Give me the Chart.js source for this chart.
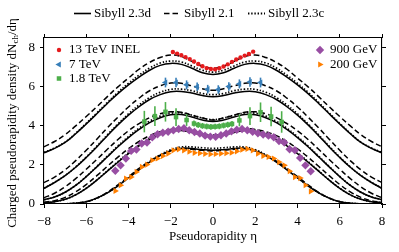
<!DOCTYPE html>
<html>
<head>
<meta charset="utf-8">
<script src="https://cdn.jsdelivr.net/npm/chart.js@4.4.1/dist/chart.umd.min.js"></script>
<style>
  html, body { margin: 0; padding: 0; background: #fff; }
  #wrap { width: 399px; height: 252px; }
</style>
</head>
<body>
<div id="wrap"><canvas id="chart" width="399" height="252"></canvas></div>
<script>
// |eta| grid of the model curves (curves are symmetric in eta)
const etaHalf = [0, 0.5, 1, 1.5, 2, 2.5, 3, 3.5, 4, 4.5, 5, 5.5, 6, 6.5, 7, 7.5, 8];

// Sibyll 2.3d (solid), 2.1 (dashed), 2.3c (dotted)
const s23d_13 = [6.63, 6.72, 6.95, 7.15, 7.2, 7.1, 6.85, 6.5, 6.1, 5.65, 5.15, 4.62, 4.1, 3.6, 3.15, 2.85, 2.62];
const s21_13  = [6.95, 7.05, 7.3, 7.55, 7.63, 7.5, 7.25, 6.9, 6.45, 6.0, 5.5, 4.98, 4.48, 4.0, 3.55, 3.2, 2.93];
const s23c_13 = [6.75, 6.85, 7.07, 7.27, 7.32, 7.22, 6.96, 6.6, 6.18, 5.72, 5.2, 4.66, 4.13, 3.62, 3.17, 2.87, 2.64];

const s23d_7 = [5.49, 5.55, 5.68, 5.76, 5.75, 5.6, 5.35, 4.98, 4.55, 4.05, 3.5, 2.92, 2.38, 1.88, 1.45, 1.1, 0.8];
const s21_7  = [5.82, 5.9, 6.05, 6.18, 6.2, 6.05, 5.8, 5.42, 4.97, 4.45, 3.9, 3.32, 2.75, 2.22, 1.75, 1.38, 1.1];
const s23c_7 = [5.6, 5.66, 5.8, 5.88, 5.87, 5.72, 5.45, 5.07, 4.62, 4.1, 3.54, 2.96, 2.4, 1.9, 1.46, 1.11, 0.81];

const s23d_18 = [4.22, 4.3, 4.45, 4.58, 4.57, 4.42, 4.17, 3.82, 3.4, 2.93, 2.42, 1.9, 1.4, 0.95, 0.6, 0.36, 0.22];
const s21_18  = [4.3, 4.4, 4.55, 4.7, 4.72, 4.62, 4.42, 4.12, 3.75, 3.3, 2.8, 2.28, 1.78, 1.3, 0.88, 0.55, 0.32];
const s23c_18 = [4.32, 4.4, 4.55, 4.67, 4.65, 4.5, 4.24, 3.88, 3.45, 2.97, 2.45, 1.92, 1.41, 0.96, 0.6, 0.36, 0.22];

const s23d_09 = [3.45, 3.52, 3.66, 3.76, 3.72, 3.55, 3.3, 2.97, 2.58, 2.14, 1.68, 1.22, 0.8, 0.47, 0.24, 0.12, 0.07];
const s21_09  = [3.5, 3.58, 3.72, 3.84, 3.82, 3.7, 3.5, 3.2, 2.83, 2.4, 1.93, 1.45, 1.0, 0.62, 0.34, 0.17, 0.09];
const s23c_09 = [3.53, 3.6, 3.74, 3.84, 3.8, 3.62, 3.36, 3.02, 2.62, 2.17, 1.7, 1.23, 0.81, 0.47, 0.24, 0.12, 0.07];

const s23d_02 = [2.75, 2.78, 2.84, 2.86, 2.73, 2.48, 2.15, 1.75, 1.33, 0.93, 0.57, 0.3, 0.12, 0.04, 0.01, 0, 0];
const s21_02  = [2.72, 2.75, 2.8, 2.82, 2.72, 2.5, 2.2, 1.82, 1.4, 0.98, 0.6, 0.3, 0.12, 0.04, 0.01, 0, 0];
const s23c_02 = [2.85, 2.88, 2.92, 2.92, 2.78, 2.52, 2.18, 1.77, 1.35, 0.94, 0.58, 0.3, 0.12, 0.04, 0.01, 0, 0];

// measurements
const eta13 = [-1.9, -1.7, -1.5, -1.3, -1.1, -0.9, -0.7, -0.5, -0.3, -0.1, 0.1, 0.3, 0.5, 0.7, 0.9, 1.1, 1.3, 1.5, 1.7, 1.9];
const val13 = [7.78, 7.7, 7.62, 7.52, 7.42, 7.3, 7.17, 7.05, 6.96, 6.91, 6.9, 6.95, 7.04, 7.15, 7.28, 7.4, 7.5, 7.6, 7.68, 7.8];

const eta7 = [-2.25, -1.75, -1.25, -0.75, -0.25, 0.25, 0.75, 1.25, 1.75, 2.25];
const val7 = [6.22, 6.22, 6.1, 6.0, 5.88, 5.86, 6.02, 6.15, 6.25, 6.22];
const err7 = [0.25, 0.24, 0.23, 0.22, 0.22, 0.22, 0.22, 0.23, 0.24, 0.25];

const eta18 = [-3.25, -2.75, -2.25, -1.75, -1.25, -0.9, -0.7, -0.5, -0.3, -0.1, 0.1, 0.3, 0.5, 0.7, 0.9, 1.25, 1.75, 2.25, 2.75, 3.25];
const val18 = [4.22, 4.5, 4.72, 4.45, 4.3, 4.12, 4.05, 4.0, 3.97, 3.95, 3.96, 3.98, 4.02, 4.06, 4.1, 4.28, 4.5, 4.7, 4.48, 4.2];
const err18 = [0.55, 0.5, 0.5, 0.45, 0.3, 0.15, 0.15, 0.15, 0.15, 0.15, 0.15, 0.15, 0.15, 0.15, 0.15, 0.3, 0.45, 0.5, 0.5, 0.55];

const eta09 = [-4.625, -4.375, -4.125, -3.875, -3.625, -3.375, -3.125, -2.875, -2.625, -2.375, -2.125, -1.875, -1.625, -1.375, -1.125, -0.875, -0.625, -0.375, -0.125,
               0.125, 0.375, 0.625, 0.875, 1.125, 1.375, 1.625, 1.875, 2.125, 2.375, 2.625, 2.875, 3.125, 3.375, 3.625, 3.875, 4.125, 4.375, 4.625];
const val09 = [1.7, 1.98, 2.33, 2.72, 2.79, 3.1, 3.15, 3.41, 3.57, 3.65, 3.7, 3.78, 3.84, 3.88, 3.78, 3.69, 3.61, 3.5, 3.45,
               3.44, 3.52, 3.61, 3.72, 3.8, 3.84, 3.78, 3.7, 3.62, 3.56, 3.5, 3.42, 3.22, 3.15, 2.8, 2.75, 2.36, 1.98, 1.68];

const eta02 = eta09;
const val02 = [0.67, 0.96, 1.3, 1.38, 1.64, 1.9, 2.02, 2.24, 2.33, 2.46, 2.58, 2.75, 2.8, 2.75, 2.68, 2.62, 2.6, 2.57, 2.55,
               2.56, 2.58, 2.6, 2.63, 2.7, 2.78, 2.82, 2.75, 2.58, 2.46, 2.41, 2.33, 2.15, 1.98, 1.68, 1.38, 1.33, 0.96, 0.65];

const xTicks = [-8, -6, -4, -2, 0, 2, 4, 6, 8];
const yTicks = [0, 2, 4, 6, 8];

const FONT = 'Liberation Serif';
const colors = {
    red: '#e41a1c', blue: '#377eb8', green: '#4daf4a', purple: '#984ea3', orange: '#ff7f00'
};

function mirror(vals) {
    const pts = [];
    for (let i = etaHalf.length - 1; i > 0; i--) pts.push({ x: -etaHalf[i], y: vals[i] });
    for (let i = 0; i < etaHalf.length; i++) pts.push({ x: etaHalf[i], y: vals[i] });
    return pts;
}

function pairs(xs, ys) {
    return xs.map((x, i) => ({ x: x, y: ys[i] }));
}

const dashStyles = {
    solid: [],
    dashed: [5.5, 3],
    dotted: [1.4, 1.8]
};

function modelLine(label, vals, style) {
    return {
        label: label,
        type: 'line',
        data: mirror(vals),
        borderColor: '#000',
        borderWidth: style === 'dotted' ? 1.7 : 1.5,
        borderDash: dashStyles[style],
        pointRadius: 0,
        tension: 0.4,
        fill: false,
        order: 2
    };
}

function points(label, xs, ys, color, style, radius, rotation, errors) {
    return {
        label: label,
        type: 'scatter',
        data: pairs(xs, ys),
        errors: errors,
        backgroundColor: color,
        borderColor: color,
        pointStyle: style,
        pointRadius: radius,
        pointRotation: rotation,
        pointBorderWidth: 0,
        order: 0
    };
}

const datasets = [
    modelLine('Sibyll 2.3d 13 TeV', s23d_13, 'solid'),
    modelLine('Sibyll 2.1 13 TeV', s21_13, 'dashed'),
    modelLine('Sibyll 2.3c 13 TeV', s23c_13, 'dotted'),
    modelLine('Sibyll 2.3d 7 TeV', s23d_7, 'solid'),
    modelLine('Sibyll 2.1 7 TeV', s21_7, 'dashed'),
    modelLine('Sibyll 2.3c 7 TeV', s23c_7, 'dotted'),
    modelLine('Sibyll 2.3d 1.8 TeV', s23d_18, 'solid'),
    modelLine('Sibyll 2.1 1.8 TeV', s21_18, 'dashed'),
    modelLine('Sibyll 2.3c 1.8 TeV', s23c_18, 'dotted'),
    modelLine('Sibyll 2.3d 900 GeV', s23d_09, 'solid'),
    modelLine('Sibyll 2.1 900 GeV', s21_09, 'dashed'),
    modelLine('Sibyll 2.3c 900 GeV', s23c_09, 'dotted'),
    modelLine('Sibyll 2.3d 200 GeV', s23d_02, 'solid'),
    modelLine('Sibyll 2.1 200 GeV', s21_02, 'dashed'),
    modelLine('Sibyll 2.3c 200 GeV', s23c_02, 'dotted'),
    points('200 GeV', eta02, val02, colors.orange, 'triangle', 3.6, 90),
    points('900 GeV', eta09, val09, colors.purple, 'rectRot', 4.2, 0),
    points('1.8 TeV', eta18, val18, colors.green, 'rect', 3.2, 0, err18),
    points('7 TeV', eta7, val7, colors.blue, 'triangle', 3.6, -90, err7),
    points('13 TeV INEL', eta13, val13, colors.red, 'circle', 2.2, 0)
];

// vertical error bars, drawn just before the markers of the same dataset
const errorBars = {
    id: 'errorBars',
    beforeDatasetDraw(chart, args) {
        const ds = chart.data.datasets[args.index];
        if (!ds.errors) return;
        const { ctx, scales: { x, y } } = chart;
        ctx.save();
        ctx.strokeStyle = ds.borderColor;
        ctx.lineWidth = 1.6;
        ds.data.forEach((p, i) => {
            const px = x.getPixelForValue(p.x);
            ctx.beginPath();
            ctx.moveTo(px, y.getPixelForValue(p.y - ds.errors[i]));
            ctx.lineTo(px, y.getPixelForValue(p.y + ds.errors[i]));
            ctx.stroke();
        });
        ctx.restore();
    }
};

// legends and axis titles
const annotations = {
    id: 'annotations',
    afterDraw(chart) {
        const ctx = chart.ctx;
        const area = chart.chartArea;
        ctx.save();
        ctx.font = `13px "${FONT}"`;
        ctx.textBaseline = 'middle';
        ctx.fillStyle = '#000';

        // model legend above the plot
        const modelLegend = [
            { text: 'Sibyll 2.3d', style: 'solid', x0: 74 },
            { text: 'Sibyll 2.1', style: 'dashed', x0: 164 },
            { text: 'Sibyll 2.3c', style: 'dotted', x0: 248 }
        ];
        modelLegend.forEach(item => {
            ctx.save();
            ctx.strokeStyle = '#000';
            ctx.lineWidth = item.style === 'dotted' ? 1.8 : 1.6;
            ctx.setLineDash(dashStyles[item.style]);
            ctx.beginPath();
            ctx.moveTo(item.x0, 13.5);
            ctx.lineTo(item.x0 + 17, 13.5);
            ctx.stroke();
            ctx.restore();
            ctx.textAlign = 'left';
            ctx.fillText(item.text, item.x0 + 20, 13.5);
        });

        // data legends inside the plot
        const dataLegend = [
            { text: '13 TeV INEL', ds: 19, x: 59, y: 50 },
            { text: '7 TeV', ds: 18, x: 59, y: 64.5 },
            { text: '1.8 TeV', ds: 17, x: 59, y: 78.5 },
            { text: '900 GeV', ds: 16, x: 320, y: 50 },
            { text: '200 GeV', ds: 15, x: 320, y: 64.5 }
        ];
        dataLegend.forEach(item => {
            const ds = chart.data.datasets[item.ds];
            ctx.fillStyle = ds.backgroundColor;
            Chart.helpers.drawPoint(ctx, {
                pointStyle: ds.pointStyle,
                rotation: ds.pointRotation,
                radius: ds.pointRadius,
                borderWidth: 0
            }, item.x, item.y);
            ctx.fillStyle = '#000';
            ctx.textAlign = 'left';
            ctx.fillText(item.text, item.x + 10, item.y);
        });

        // x axis title
        ctx.textAlign = 'center';
        ctx.fillText('Pseudorapidity \u03b7', (area.left + area.right) / 2, 237);

        // y axis title with subscript
        const main = 'Charged pseudorapidity density dN';
        const sub = 'ch';
        const tail = '/d\u03b7';
        const subFont = `9px "${FONT}"`;
        const wMain = ctx.measureText(main).width;
        const wTail = ctx.measureText(tail).width;
        ctx.font = subFont;
        const wSub = ctx.measureText(sub).width;
        const total = wMain + wSub + wTail;
        ctx.translate(13, 123);
        ctx.rotate(-Math.PI / 2);
        ctx.textAlign = 'left';
        let xPos = -total / 2;
        ctx.font = `13px "${FONT}"`;
        ctx.fillText(main, xPos, 0);
        xPos += wMain;
        ctx.font = subFont;
        ctx.fillText(sub, xPos, 3);
        xPos += wSub;
        ctx.font = `13px "${FONT}"`;
        ctx.fillText(tail, xPos, 0);
        ctx.restore();
    }
};

function fmt(v) {
    return v < 0 ? '\u2212' + Math.abs(v) : String(v);
}

function axis(position, tickList, min, max, showLabels, size) {
    return {
        type: 'linear',
        position: position,
        min: min,
        max: max,
        afterBuildTicks: scale => { scale.ticks = tickList.map(v => ({ value: v })); },
        afterFit: scale => {
            if (position === 'top' || position === 'bottom') scale.height = size;
            else scale.width = size;
        },
        ticks: {
            display: showLabels,
            color: '#000',
            padding: position === 'bottom' ? 6 : 5,
            font: { family: FONT, size: 13 },
            callback: fmt
        },
        grid: {
            drawOnChartArea: false,
            drawTicks: true,
            tickLength: 4,
            tickWidth: 1,
            color: '#000'
        },
        border: { display: true, color: '#000', width: 1.1 }
    };
}

new Chart(document.getElementById('chart'), {
    type: 'scatter',
    data: { datasets: datasets },
    options: {
        responsive: false,
        devicePixelRatio: 1,
        animation: false,
        layout: { padding: { left: 0, right: 13, top: 34, bottom: 0 } },
        plugins: {
            legend: { display: false },
            tooltip: { enabled: false }
        },
        scales: {
            x: axis('bottom', xTicks, -8, 8, true, 48),
            x2: axis('top', xTicks, -8, 8, false, 4),
            y: axis('left', yTicks, 0, 8.5, true, 44),
            y2: axis('right', yTicks, 0, 8.5, false, 4)
        }
    },
    plugins: [errorBars, annotations]
});
</script>
</body>
</html>
